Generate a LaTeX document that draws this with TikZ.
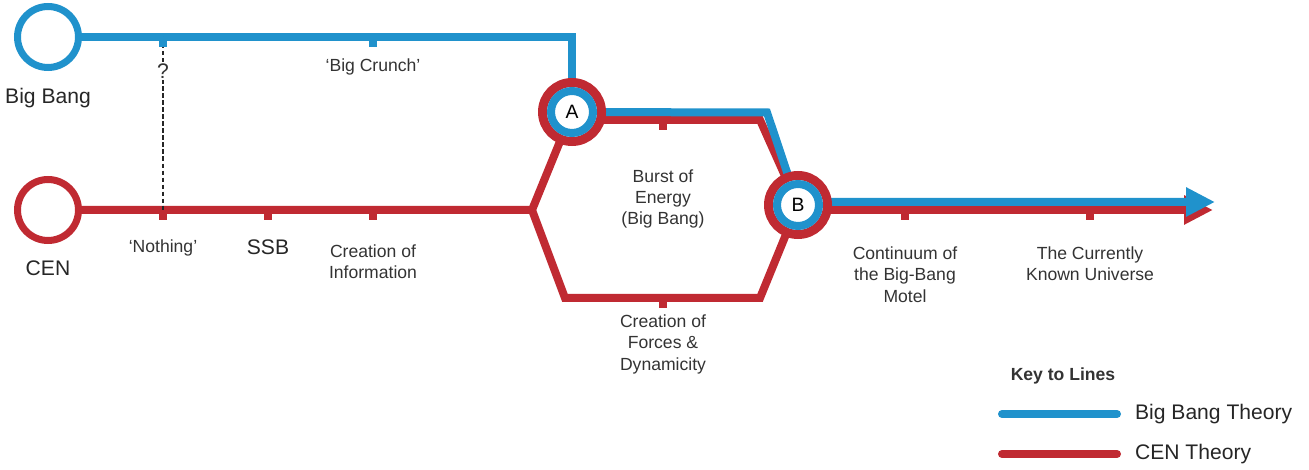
\documentclass[tikz,border=0pt]{standalone}
\usepackage{fontspec}
\setmainfont{Liberation Sans}
\usetikzlibrary{positioning,arrows.meta,backgrounds}
\definecolor{bbblue}{RGB}{32,146,204}
\definecolor{cenred}{RGB}{192,42,50}

\begin{document}
\begin{tikzpicture}[
    bigline/.style={draw=bbblue, line width=0.16cm},
    cenline/.style={draw=cenred, line width=0.16cm},
    terminus/.style={circle, draw, line width=0.14cm, fill=white,
                     minimum size=1.22cm, inner sep=0pt},
    hubout/.style={circle, draw=cenred, line width=0.18cm, fill=white,
                   minimum size=1.18cm, inner sep=0pt},
    hubin/.style={circle, draw=bbblue, line width=0.16cm, fill=white,
                  minimum size=0.84cm, inner sep=0pt,
                  font=\fontsize{11}{13}\selectfont},
    stopmark/.style={line width=0.15cm},
    keyline/.style={line width=0.16cm, line cap=round},
    endarrow/.style={-{Triangle[length=0.58cm, width=0.55cm]}},
    lbl/.style={font=\fontsize{10}{12}\selectfont, text=black!80,
                align=center, inner sep=1pt},
    biglbl/.style={font=\fontsize{12}{14}\selectfont, text=black!85,
                   inner sep=1pt},
  ]
  \useasboundingbox (0,0) rectangle (26.18,9.38);

  % Termini and interchanges
  \node[terminus, draw=bbblue] (bb)  at (0.96,8.64) {};
  \node[terminus, draw=cenred] (cen) at (0.96,5.18) {};
  \node[hubout] (hubA) at (11.44,7.14) {};
  \node[hubin]  (A) at (hubA) {A};
  \node[hubout] (hubB) at (15.96,5.28) {};
  \node[hubin]  (B) at (hubB) {B};

  % Stops
  \coordinate (q)       at (3.26,8.64);
  \coordinate (crunch)  at (7.46,8.64);
  \coordinate (nothing) at (3.26,5.18);
  \coordinate (ssb)     at (5.36,5.18);
  \coordinate (info)    at (7.46,5.18);
  \coordinate (burst)   at (13.26,6.98);
  \coordinate (forces)  at (13.26,3.42);
  \coordinate (motel)   at (18.10,5.18);
  \coordinate (known)   at (21.80,5.18);

  % Bends
  \coordinate (fork)   at (10.64,5.18);
  \coordinate (lowl)   at (11.30,3.42);
  \coordinate (lowr)   at (15.20,3.42);
  \coordinate (bturn)  at (15.34,7.13);
  \coordinate (rturn)  at (15.20,6.98);
  \coordinate (bbend)  at (24.30,5.34);
  \coordinate (cenend) at (24.26,5.18);

  % Lines
  \begin{pgfonlayer}{background}
    \draw[cenline] (cen) -- (fork) -- (A.center);
    \draw[cenline] (fork) -- (lowl) -- (lowr) -- (B.center);
    \draw[cenline] ([yshift=-0.16cm]A.center) -- (rturn) -- (B.center);
    \draw[cenline, endarrow] ([yshift=-0.1cm]B.center) -- (cenend);
    \draw[bigline] (bb) -- (bb -| A) -- (A.center);
    \draw[bigline] (A.center) -- (bturn) -- (B.center);
    \draw[bigline, endarrow] ([yshift=0.06cm]B.center) -- (bbend);
    \draw[black!85, line width=1.3pt, dash pattern=on 2.5pt off 1.5pt]
      (q) -- (nothing);
  \end{pgfonlayer}

  % Stop marks
  \foreach \s in {q,crunch}
    \draw[bigline, stopmark] (\s) -- ++(0,-0.2);
  \foreach \s in {nothing,ssb,info,burst,forces,motel,known}
    \draw[cenline, stopmark] (\s) -- ++(0,-0.2);

  \node[lbl, fill=white, font=\fontsize{12}{14}\selectfont] (qm) at (3.26,7.96) {?};

  % Labels
  \node[biglbl, below=0.3 of bb]  (bblbl)  {Big Bang};
  \node[biglbl, below=0.3 of cen] (cenlbl) {CEN};
  \node[lbl, below=0.4 of crunch]   (crunchlbl)  {`Big Crunch'};
  \node[lbl, below=0.55 of nothing] (nothinglbl) {`Nothing'};
  \node[biglbl, below=0.55 of ssb]  (ssblbl)     {SSB};
  \node[lbl, below=0.65 of info]    (infolbl)    {Creation of\\Information};
  \node[lbl] (burstlbl) at (13.26,5.40) {Burst of\\Energy\\(Big Bang)};
  \node[lbl, below=0.3 of forces]   (forceslbl)  {Creation of\\Forces \&\\Dynamicity};
  \node[lbl, below=0.7 of motel]    (motellbl)   {Continuum of\\the Big-Bang\\Motel};
  \node[lbl, below=0.7 of known]    (knownlbl)   {The Currently\\Known Universe};

  % Key
  \node[lbl, font=\bfseries\fontsize{10}{12}\selectfont] (key) at (21.26,1.86) {Key to Lines};
  \coordinate (kb) at (20.04,1.10);
  \coordinate (kr) at (20.04,0.30);
  \node[biglbl, anchor=west] (kbl) at (22.66,1.10) {Big Bang Theory};
  \node[biglbl, anchor=west] (krl) at (22.66,0.30) {CEN Theory};
  \draw[bigline, keyline] (kb) -- ([xshift=-0.32cm]kbl.west);
  \draw[cenline, keyline] (kr) -- ([xshift=-0.32cm]krl.west);

\end{tikzpicture}
\end{document}
